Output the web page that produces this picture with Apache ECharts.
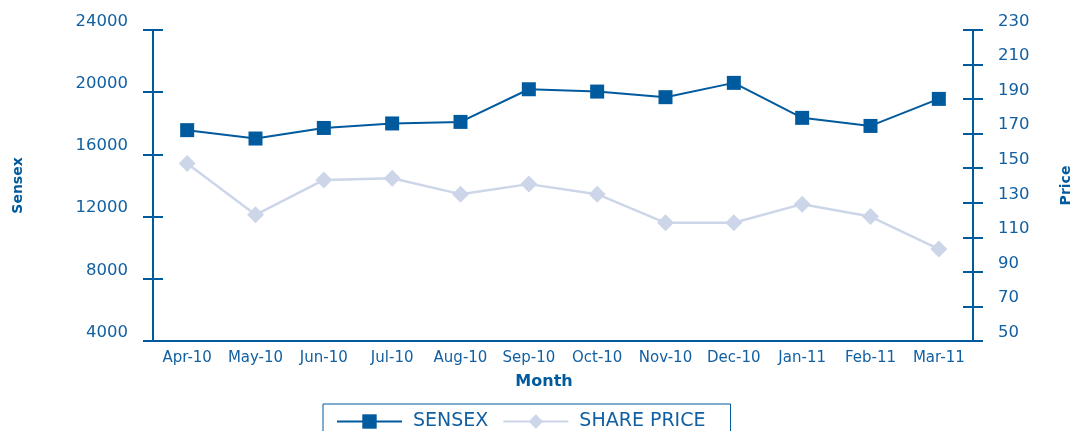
<!DOCTYPE html>
<html>
<head>
<meta charset="utf-8">
<script src="https://cdn.jsdelivr.net/npm/echarts@6/dist/echarts.min.js"></script>
<style>
  html, body { margin: 0; padding: 0; background: #fff; }
  #chart { width: 1073px; height: 431px; }
</style>
</head>
<body>
<div id="chart"></div>
<script>
// data
var months = ['Apr-10', 'May-10', 'Jun-10', 'Jul-10', 'Aug-10', 'Sep-10',
              'Oct-10', 'Nov-10', 'Dec-10', 'Jan-11', 'Feb-11', 'Mar-11'];
var sensex = [17560, 17020, 17700, 17990, 18090, 20190, 20040, 19680, 20600, 18350, 17830, 19570];
var sharePrice = [152.7, 123, 143.2, 144.2, 135, 140.8, 135, 118.4, 118.4, 129.2, 122, 103.2];

var dark = '#005a9e';
var light = '#cdd6e9';
var textCol = '#1260a2';
var font = 'DejaVu Sans';

function valueAxis(pos, min, max, step, inside, name) {
    var ax = {
        type: 'value',
        position: pos,
        min: min,
        max: max,
        interval: step,
        splitLine: { show: false },
        axisLine: { show: true, lineStyle: { color: dark, width: 2 } },
        axisTick: { show: true, inside: inside, length: 10, lineStyle: { color: dark, width: 2 } },
        axisLabel: { show: !inside, color: textCol, fontFamily: font, fontSize: 16.5,
                     margin: 25, verticalAlign: 'bottom', formatter: function (v) { return String(v); } }
    };
    if (name) {
        ax.name = name;
        ax.nameLocation = 'middle';
        ax.nameRotate = 90;
        ax.nameTextStyle = { color: dark, fontFamily: font, fontWeight: 'bold', fontSize: 14 };
    }
    return ax;
}

var chart = echarts.init(document.getElementById('chart'));

var yLeft = valueAxis('left', 4000, 24000, 4000, false, 'Sensex');
yLeft.nameGap = 120;
yLeft.nameTextStyle.padding = [0, 0, 8, 0];
var yRight = valueAxis('right', 50, 230, 20, false, 'Price');
yRight.nameGap = 86;

chart.setOption({
    animation: false,
    grid: { left: 153, right: 100, top: 30, bottom: 90, outerBoundsMode: 'none' },
    legend: {
        left: 323,
        top: 404,
        padding: [8, 25, 8, 13],
        itemGap: 14,
        itemWidth: 65,
        itemHeight: 18,
        borderColor: dark,
        borderWidth: 1,
        textStyle: { color: textCol, fontFamily: font, fontSize: 19, padding: [0, 0, 0, 6] },
        data: ['SENSEX', 'SHARE PRICE']
    },
    xAxis: [{
        type: 'category',
        data: months,
        position: 'bottom',
        name: 'Month',
        nameLocation: 'middle',
        nameGap: 33,
        nameTextStyle: { color: dark, fontFamily: font, fontWeight: 'bold', fontSize: 16, padding: [0, 38, 0, 0] },
        axisLine: { lineStyle: { color: dark, width: 2 } },
        axisTick: { length: 6, lineStyle: { color: dark, width: 2 } },
        axisLabel: { color: textCol, fontFamily: font, fontSize: 15, margin: 10, interval: 0 }
    }, {
        type: 'category',
        data: months,
        position: 'bottom',
        axisLine: { show: false },
        axisTick: { inside: true, length: 6, lineStyle: { color: dark, width: 2 } },
        axisLabel: { show: false }
    }],
    yAxis: [
        yLeft,
        yRight,
        valueAxis('left', 4000, 24000, 4000, true),
        valueAxis('right', 50, 230, 20, true)
    ],
    series: [{
        name: 'SENSEX',
        type: 'line',
        data: sensex,
        yAxisIndex: 0,
        symbol: 'rect',
        symbolSize: 14,
        lineStyle: { color: dark, width: 2 },
        itemStyle: { color: dark },
        z: 3
    }, {
        name: 'SHARE PRICE',
        type: 'line',
        data: sharePrice,
        yAxisIndex: 1,
        symbol: 'diamond',
        symbolSize: 17,
        lineStyle: { color: light, width: 2.5 },
        itemStyle: { color: light },
        z: 2
    }]
});
</script>
</body>
</html>
